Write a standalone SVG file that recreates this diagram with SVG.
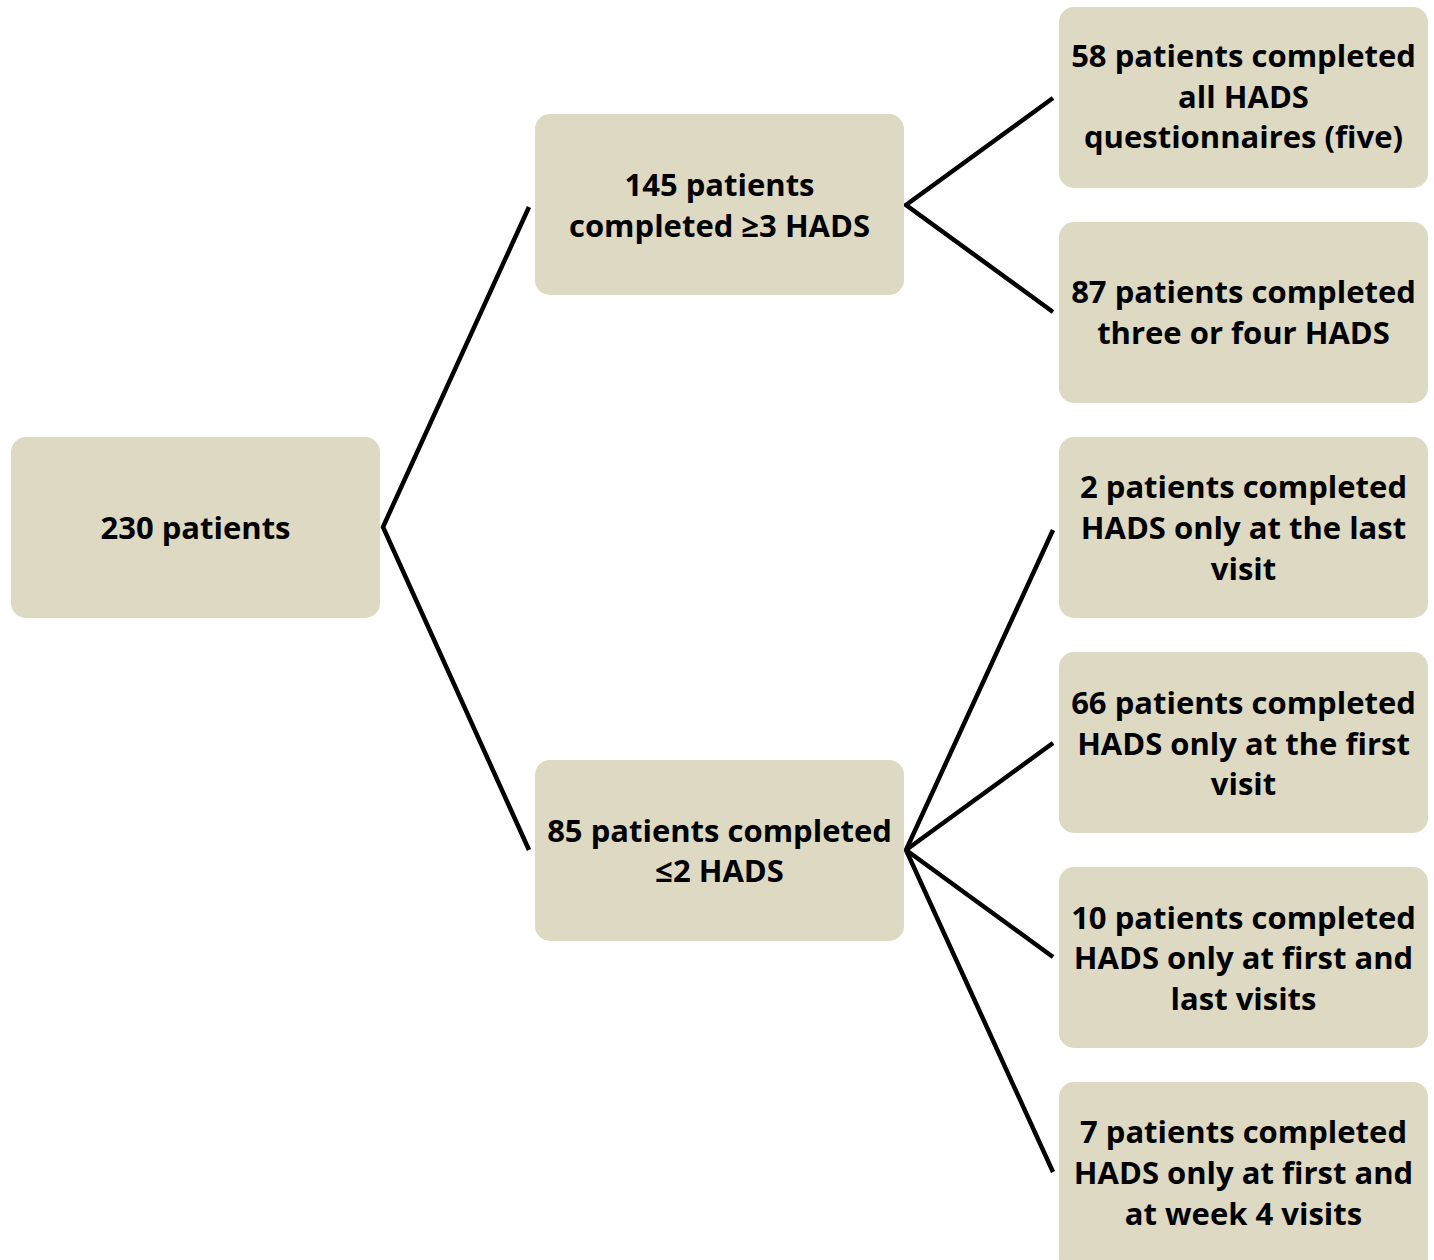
<svg xmlns="http://www.w3.org/2000/svg" width="1434" height="1260" viewBox="0 0 1434 1260">
<style>
.box{fill:#DDD9C3;}
.t{font-family:"Open Sans","Lato","Liberation Sans",sans-serif;font-weight:bold;font-size:31px;fill:#000;text-anchor:middle;font-variant-ligatures:none;}
.c{stroke:#000;stroke-width:4.5;fill:none;stroke-linejoin:miter;}
</style>
<rect width="1434" height="1260" fill="#fff"/>
<g id="connectors">
<polyline class="c" points="529,207 383,527 529,850"/>
<polyline class="c" points="1053,98 906,205 1053,312"/>
<polyline class="c" points="1053,530 906,850 1053,1172"/>
<line class="c" x1="906" y1="850" x2="1053" y2="743"/>
<line class="c" x1="906" y1="850" x2="1053" y2="957"/>
</g>
<g id="n230">
<rect class="box" x="11" y="437" width="369" height="181" rx="15"/>
<text class="t" x="195.5" y="539">230 patients</text>
</g>
<g id="n145">
<rect class="box" x="535" y="114" width="369" height="181" rx="15"/>
<text class="t" x="719.5" y="196">145 patients</text>
<text class="t" x="719.5" y="237">completed ≥3 HADS</text>
</g>
<g id="n85">
<rect class="box" x="535" y="760" width="369" height="181" rx="15"/>
<text class="t" x="719.5" y="842">85 patients completed</text>
<text class="t" x="719.5" y="882">≤2 HADS</text>
</g>
<g id="n58">
<rect class="box" x="1059" y="7" width="369" height="181" rx="15"/>
<text class="t" x="1243.5" y="67">58 patients completed</text>
<text class="t" x="1243.5" y="108">all HADS</text>
<text class="t" x="1243.5" y="148">questionnaires (five)</text>
</g>
<g id="n87">
<rect class="box" x="1059" y="222" width="369" height="181" rx="15"/>
<text class="t" x="1243.5" y="303">87 patients completed</text>
<text class="t" x="1243.5" y="344">three or four HADS</text>
</g>
<g id="n2">
<rect class="box" x="1059" y="437" width="369" height="181" rx="15"/>
<text class="t" x="1243.5" y="498">2 patients completed</text>
<text class="t" x="1243.5" y="539">HADS only at the last</text>
<text class="t" x="1243.5" y="580">visit</text>
</g>
<g id="n66">
<rect class="box" x="1059" y="652" width="369" height="181" rx="15"/>
<text class="t" x="1243.5" y="714">66 patients completed</text>
<text class="t" x="1243.5" y="755">HADS only at the first</text>
<text class="t" x="1243.5" y="795">visit</text>
</g>
<g id="n10">
<rect class="box" x="1059" y="867" width="369" height="181" rx="15"/>
<text class="t" x="1243.5" y="929">10 patients completed</text>
<text class="t" x="1243.5" y="969">HADS only at first and</text>
<text class="t" x="1243.5" y="1010">last visits</text>
</g>
<g id="n7">
<rect class="box" x="1059" y="1082" width="369" height="190" rx="15"/>
<text class="t" x="1243.5" y="1143">7 patients completed</text>
<text class="t" x="1243.5" y="1184">HADS only at first and</text>
<text class="t" x="1243.5" y="1225">at week 4 visits</text>
</g>
</svg>
